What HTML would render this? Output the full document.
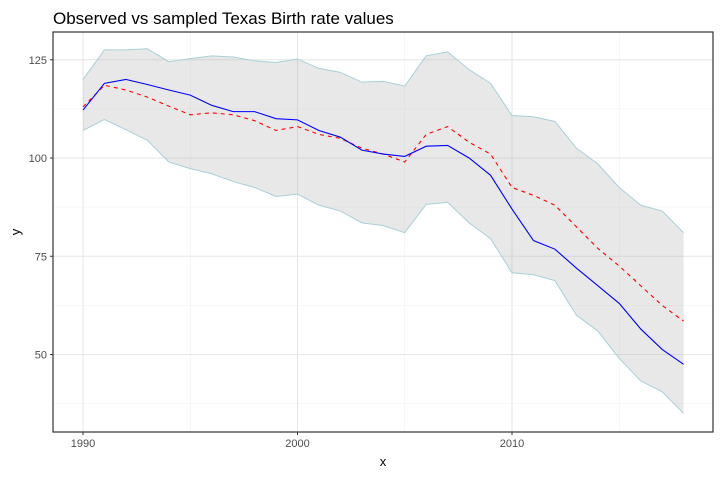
<!DOCTYPE html>
<html><head><meta charset="utf-8"><style>
body{margin:0;background:#fff;font-family:"Liberation Sans",sans-serif}
</style></head><body>
<svg width="721" height="477" xmlns="http://www.w3.org/2000/svg" font-family="Liberation Sans, sans-serif">
<text x="53" y="24" font-size="17" fill="#000">Observed vs sampled Texas Birth rate values</text>
<g id="grid"></g>
<g id="marks"></g>
<rect x="53" y="32" width="660" height="400" fill="none" stroke="#333" stroke-width="1.2"/>
<g id="axes"></g>
<text x="383" y="466" font-size="13" text-anchor="middle">x</text>
<text x="20" y="232" font-size="13" text-anchor="middle" transform="rotate(-90 20 232)">y</text>
</svg>
<script>
const years=[1990,1991,1992,1993,1994,1995,1996,1997,1998,1999,2000,2001,2002,2003,2004,2005,2006,2007,2008,2009,2010,2011,2012,2013,2014,2015,2016,2017,2018];
const observed=[112.2,119,120,118.7,117.3,116,113.4,111.8,111.8,110,109.7,107,105.3,102,101,100.4,103,103.2,100,95.6,87,79,76.8,72,67.5,63,56.5,51.3,47.5];
const sampled=[113,118.5,117.3,115.5,113.2,111,111.5,111,109.5,107,108,106,105,102.5,101,99,106,108,104,101,92.5,90.5,88,82.5,77,72.5,67.5,62.5,58.5];
const upper=[120,127.5,127.5,127.8,124.5,125.3,126,125.7,124.7,124.3,125.2,122.8,121.8,119.3,119.5,118.3,126,127,122.5,119,110.8,110.5,109.3,102.5,98.5,92.5,88,86.5,81];
const lower=[107,109.8,107.2,104.5,99,97.3,96,94,92.5,90.2,90.8,88,86.5,83.5,82.8,81,88.2,88.7,83.5,79.5,70.8,70.3,68.8,60,56,49,43.3,40.5,35];
const xTicks=[1990,2000,2010];
const xMinor=[1995,2005,2015];
const yTicks=[50,75,100,125];
const yMinor=[37.5,62.5,87.5,112.5];
const NS="http://www.w3.org/2000/svg";
const X=v=>83+(v-1990)*21.45;
const Y=v=>158-(v-100)*3.93;
function mk(tag,attrs,parent){const e=document.createElementNS(NS,tag);for(const k in attrs)e.setAttribute(k,attrs[k]);parent.appendChild(e);return e;}
const grid=document.getElementById('grid'),marks=document.getElementById('marks'),axes=document.getElementById('axes');
yMinor.forEach(v=>{const l=mk('line',{x1:53,x2:713,y1:Y(v),y2:Y(v),stroke:'#f0f0f0','stroke-width':0.6},grid);});
xMinor.forEach(v=>{const l=mk('line',{x1:X(v),x2:X(v),y1:32,y2:432,stroke:'#f0f0f0','stroke-width':0.6},grid);});
yTicks.forEach(v=>{const l=mk('line',{x1:53,x2:713,y1:Y(v),y2:Y(v),stroke:'#e6e6e6','stroke-width':1.1},grid);
const t=mk('text',{x:47,y:Y(v)+4,'font-size':11,'text-anchor':'end',fill:'#4d4d4d'},axes);t.textContent=v;
const k=mk('line',{x1:50,x2:53,y1:Y(v),y2:Y(v),stroke:'#333'},axes);});
xTicks.forEach(v=>{const l=mk('line',{x1:X(v),x2:X(v),y1:32,y2:432,stroke:'#e6e6e6','stroke-width':1.1},grid);
const t=mk('text',{x:X(v),y:447,'font-size':11,'text-anchor':'middle',fill:'#4d4d4d'},axes);t.textContent=v;
const k=mk('line',{x1:X(v),x2:X(v),y1:432,y2:435,stroke:'#333'},axes);});
const up=years.map((y,i)=>X(y)+','+Y(upper[i]));
const lo=years.map((y,i)=>X(y)+','+Y(lower[i])).reverse();
const band=mk('polygon',{points:up.concat(lo).join(' '),fill:'#b3b3b3','fill-opacity':0.3,stroke:'none'},marks);

const ub=mk('polyline',{points:up.join(' '),fill:'none',stroke:'#a8d0d8','stroke-width':1},marks);

const lb=mk('polyline',{points:years.map((y,i)=>X(y)+','+Y(lower[i])).join(' '),fill:'none',stroke:'#a8d0d8','stroke-width':1},marks);

const sl=mk('polyline',{points:years.map((y,i)=>X(y)+','+Y(sampled[i])).join(' '),fill:'none',stroke:'#ff0000','stroke-width':1.1,'stroke-dasharray':'4 4'},marks);

const ol=mk('polyline',{points:years.map((y,i)=>X(y)+','+Y(observed[i])).join(' '),fill:'none',stroke:'#0000ff','stroke-width':1.1},marks);

</script>
</body></html>
